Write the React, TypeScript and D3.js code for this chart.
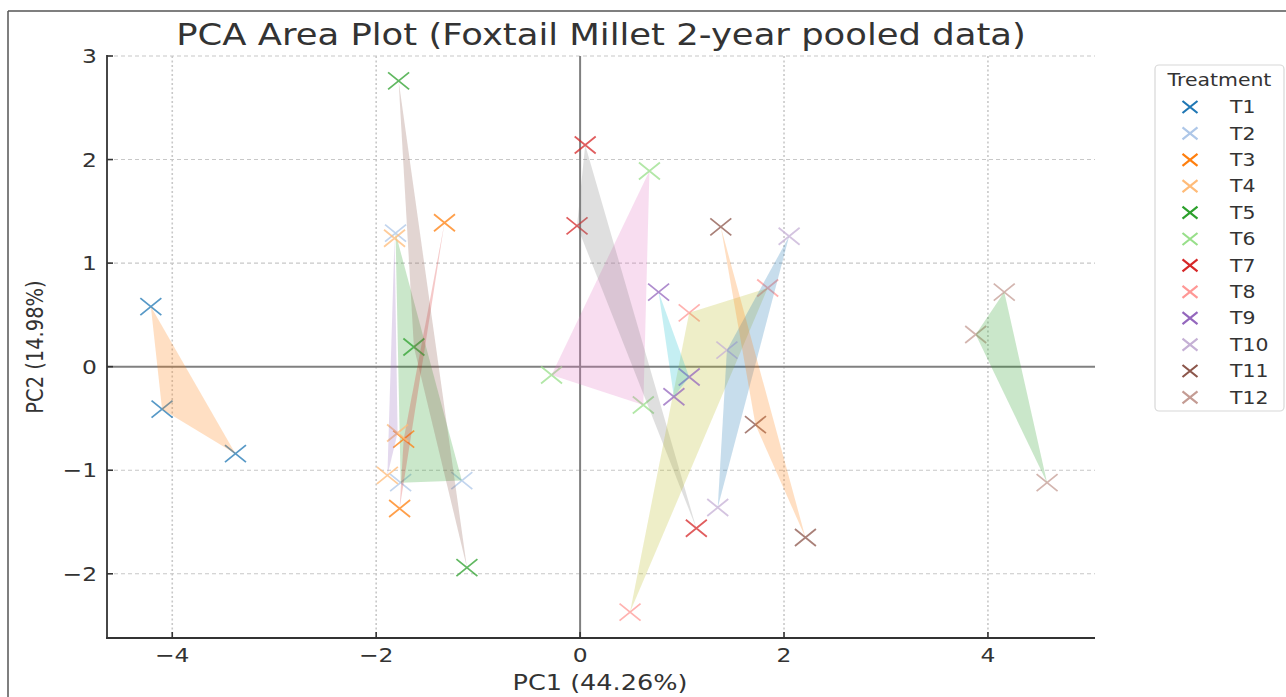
import React from "react";
import * as d3 from "d3";

const treatments = ["T1", "T2", "T3", "T4", "T5", "T6", "T7", "T8", "T9", "T10", "T11", "T12"];
const pc1Values = [
  [-4.21, -4.10, -3.38],
  [-1.81, -1.76, -1.16],
  [-1.33, -1.73, -1.77],
  [-1.82, -1.79, -1.89],
  [-1.78, -1.63, -1.11],
  [0.68, -0.28, 0.62],
  [0.05, -0.03, 1.14],
  [1.07, 1.84, 0.49],
  [0.77, 0.92, 1.07],
  [2.05, 1.44, 1.35],
  [1.38, 1.72, 2.21],
  [4.16, 3.88, 4.58],
];
const pc2Values = [
  [0.58, -0.41, -0.84],
  [1.29, -1.12, -1.10],
  [1.39, -0.70, -1.37],
  [1.24, -0.64, -1.05],
  [2.76, 0.19, -1.94],
  [1.89, -0.08, -0.37],
  [2.14, 1.36, -1.56],
  [0.52, 0.76, -2.37],
  [0.72, -0.29, -0.10],
  [1.26, 0.16, -1.36],
  [1.35, -0.56, -1.65],
  [0.72, 0.31, -1.12],
];
const xTicks = [-4, -2, 0, 2, 4];
const yTicks = [-2, -1, 0, 1, 2, 3];
const titleText = "PCA Area Plot (Foxtail Millet 2-year pooled data)";
const xLabelText = "PC1 (44.26%)";
const yLabelText = "PC2 (14.98%)";
const legendTitleText = "Treatment";

const markerColors = [
  "#1f77b4", "#aec7e8", "#ff7f0e", "#ffbb78", "#2ca02c", "#98df8a",
  "#d62728", "#ff9896", "#9467bd", "#c5b0d5", "#8c564b", "#c49c94",
];
const fillColor = (i: number) => d3.schemeCategory10[(i + 1) % 10];

const W = 1286;
const H = 697;
const L = 107, R = 1095, T = 56, B = 638;
const SX = 1.2;
const FONT = "'DejaVu Sans', sans-serif";
const TXT = "#333";

const fmt = (v: number) => (v < 0 ? "\u2212" + Math.abs(v) : String(v));

function xMark(cx: number, cy: number, hw: number, hh: number) {
  return `M${cx - hw},${cy - hh}L${cx + hw},${cy + hh}M${cx - hw},${cy + hh}L${cx + hw},${cy - hh}`;
}

export default function App() {
  const x = d3.scaleLinear().domain([-4.64, 5.05]).range([L, R]);
  const y = d3.scaleLinear().domain([-2.62, 3]).range([B, T]);
  const line = d3.line<[number, number]>().x((d) => x(d[0])).y((d) => y(d[1]));

  const legendX = 1155, legendY = 65, legendW = 129, legendRow = 26.4;

  return (
    <svg width={W} height={H} style={{ position: "absolute", left: 0, top: 0, background: "#fff" }} fontFamily={FONT}>
      <rect x={0} y={0} width={W} height={H} fill="#fff" />
      {/* outer frame */}
      <line x1={8} y1={11} x2={W} y2={11} stroke="#555" strokeWidth={1.5} />
      <line x1={8} y1={11} x2={8} y2={H} stroke="#555" strokeWidth={1.5} />

      {/* grid */}
      {yTicks.filter((t) => t !== 0).map((t) => (
        <line key={"gy" + t} x1={L} x2={R} y1={y(t)} y2={y(t)} stroke="#c8c8c8" strokeWidth={1.1} strokeDasharray="4,3" />
      ))}
      {xTicks.filter((t) => t !== 0).map((t) => (
        <line key={"gx" + t} x1={x(t)} x2={x(t)} y1={T} y2={B} stroke="#c8c8c8" strokeWidth={1.6} strokeDasharray="2,2.5" />
      ))}

      {/* zero lines */}
      <line x1={L} x2={R} y1={y(0)} y2={y(0)} stroke="#808080" strokeWidth={2} />
      <line x1={x(0)} x2={x(0)} y1={T} y2={B} stroke="#808080" strokeWidth={2} />

      {/* series */}
      {treatments.map((tr, i) => {
        const pts: [number, number][] = pc1Values[i].map((v, j) => [v, pc2Values[i][j]]);
        return (
          <g key={tr}>
            {pts.map((p, j) => (
              <path key={j} d={xMark(x(p[0]), y(p[1]), 10.5, 8.5)} stroke={markerColors[i]} strokeWidth={1.8} strokeOpacity={0.75} fill="none" />
            ))}
            <path d={line(pts) + "Z"} fill={fillColor(i)} fillOpacity={0.25} stroke="none" />
          </g>
        );
      })}

      {/* spines */}
      <line x1={L} x2={L} y1={T - 1} y2={B + 1} stroke="#333" strokeWidth={1.8} />
      <line x1={L - 1} x2={R} y1={B} y2={B} stroke="#333" strokeWidth={1.8} />

      {/* ticks */}
      {yTicks.map((t) => (
        <g key={"ty" + t}>
          <line x1={L} x2={L + 6} y1={y(t)} y2={y(t)} stroke="#333" strokeWidth={1.6} />
          <text transform={`translate(${L - 10},${y(t)}) scale(${SX},1)`} textAnchor="end" dy="0.36em" fontSize={19.5} fill={TXT}>
            {fmt(t)}
          </text>
        </g>
      ))}
      {xTicks.map((t) => (
        <g key={"tx" + t}>
          <line x1={x(t)} x2={x(t)} y1={B} y2={B - 6} stroke="#333" strokeWidth={1.6} />
          <text transform={`translate(${x(t)},662) scale(${SX},1)`} textAnchor="middle" fontSize={19.5} fill={TXT}>
            {fmt(t)}
          </text>
        </g>
      ))}

      {/* labels */}
      <text transform={`translate(${(L + R) / 2},45) scale(${SX},1)`} textAnchor="middle" fontSize={29.5} fill={TXT}>
        {titleText}
      </text>
      <text transform={`translate(${(L + R) / 2 - 1},690) scale(${SX},1)`} textAnchor="middle" fontSize={21.3} fill={TXT}>
        {xLabelText}
      </text>
      <text transform={`translate(43,${(T + B) / 2}) scale(${SX},1) rotate(-90)`} textAnchor="middle" fontSize={19.5} fill={TXT}>
        {yLabelText}
      </text>

      {/* legend */}
      <rect x={legendX} y={legendY} width={legendW} height={346} rx={4} fill="#fff" stroke="#d8d8d8" strokeWidth={1.2} />
      <text transform={`translate(${legendX + legendW / 2},86) scale(${SX},1)`} textAnchor="middle" fontSize={17} fill={TXT}>
        {legendTitleText}
      </text>
      {treatments.map((tr, i) => {
        const cy = 107 + i * legendRow;
        return (
          <g key={"lg" + tr}>
            <path d={xMark(1190, cy, 7.5, 6)} stroke={markerColors[i]} strokeWidth={2.2} fill="none" />
            <text transform={`translate(1230,${cy}) scale(${SX},1)`} dy="0.36em" fontSize={17} fill={TXT}>
              {tr}
            </text>
          </g>
        );
      })}
    </svg>
  );
}
